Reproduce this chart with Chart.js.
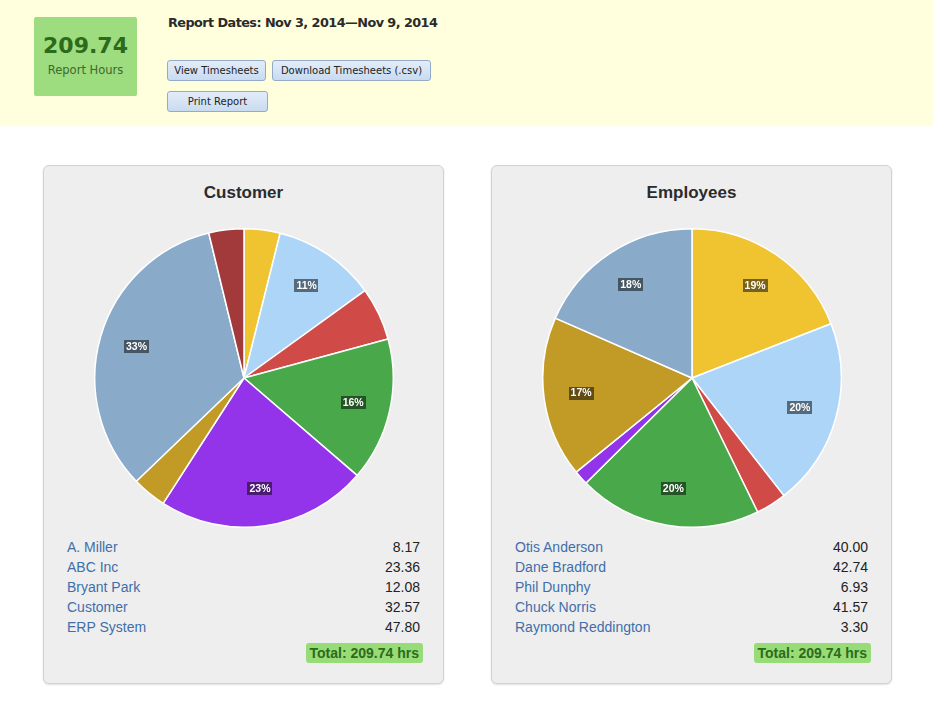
<!DOCTYPE html>
<html>
<head>
<meta charset="utf-8">
<script src="https://cdn.jsdelivr.net/npm/chart.js@4.4.0/dist/chart.umd.min.js"></script>
<style>
	html, body { margin: 0; padding: 0; background: #fff; }
	body { width: 933px; height: 707px; position: relative; overflow: hidden; font-family: "Liberation Sans", Arial, sans-serif; }
	.banner { position: absolute; left: 0; top: 0; width: 933px; height: 126px; background: #ffffdd; }
	.hours-box { position: absolute; left: 34px; top: 17px; width: 103px; height: 79px; background: #9ddc7f; border-radius: 2px; text-align: center; }
	.hours-box .num { font-family: "DejaVu Sans", sans-serif; font-weight: bold; font-size: 22px; color: #2c6a1c; margin-top: 16px; line-height: 26px; }
	.hours-box .lbl { font-family: "DejaVu Sans", sans-serif; font-size: 11.5px; color: #3b6a2e; margin-top: 4px; }
	.dates { position: absolute; left: 168px; top: 15px; font-family: "DejaVu Sans", sans-serif; font-weight: bold; font-size: 12.8px; letter-spacing: -0.55px; color: #2a2a2a; white-space: nowrap; }
	.btn { position: absolute; height: 19px; line-height: 19px; border: 1px solid #93abc9; border-radius: 3px; background: linear-gradient(#e3edf9, #c9dbf1); font-family: "DejaVu Sans", sans-serif; font-size: 10px; color: #222; text-align: center; box-sizing: content-box; }
	.panel { position: absolute; top: 165px; width: 399px; height: 517px; background: #eeeeee; border: 1px solid #d2d2d2; border-radius: 6px; box-shadow: 0 1px 2px rgba(0,0,0,0.12); }
	.panel h2 { margin: 0; position: absolute; left: 0; width: 100%; top: 17px; text-align: center; font-size: 17px; font-weight: bold; color: #2b2b2b; }
	.pie { position: absolute; left: 50px; top: 62px; width: 300px; height: 300px; }
	.rows { position: absolute; left: 23px; right: 23px; top: 371px; }
	.row { height: 20px; line-height: 20px; font-size: 14px; display: flex; justify-content: space-between; }
	.row .name { color: #3f6eaa; }
	.row .val { color: #222; }
	.total { position: absolute; right: 20px; top: 477px; height: 20px; line-height: 20px; padding: 0 4px; background: #98dc77; border-radius: 3px; font-size: 14px; font-weight: bold; color: #2c6a1c; }
</style>
</head>
<body>
<div class="banner">
	<div class="hours-box"><div class="num">209.74</div><div class="lbl">Report Hours</div></div>
	<div class="dates">Report Dates: Nov 3, 2014—Nov 9, 2014</div>
	<div class="btn" style="left:167px;top:60px;width:97px;">View Timesheets</div>
	<div class="btn" style="left:272px;top:60px;width:157px;">Download Timesheets (.csv)</div>
	<div class="btn" style="left:167px;top:91px;width:99px;">Print Report</div>
</div>

<div class="panel" style="left:43px;">
	<h2>Customer</h2>
	<div class="pie"><canvas id="customerChart"></canvas></div>
	<div class="rows" id="customerRows"></div>
	<div class="total">Total: 209.74 hrs</div>
</div>

<div class="panel" style="left:491px;">
	<h2>Employees</h2>
	<div class="pie"><canvas id="employeeChart"></canvas></div>
	<div class="rows" id="employeeRows"></div>
	<div class="total">Total: 209.74 hrs</div>
</div>

<script>
// Customer hours (only the first five are listed under the pie)
const customerLabels = ['A. Miller', 'ABC Inc', 'Bryant Park', 'Customer', 'ERP System', 'Other 1', 'Other 2', 'Other 3'];
const customerHours = [8.17, 23.36, 12.08, 32.57, 47.80, 7.80, 70.00, 7.96];

// Employee hours
const employeeLabels = ['Otis Anderson', 'Dane Bradford', 'Phil Dunphy', 'Chuck Norris', 'Raymond Reddington', 'Other 1', 'Other 2'];
const employeeHours = [40.00, 42.74, 6.93, 41.57, 3.30, 36.55, 38.65];

const palette = ['#f0c330', '#acd5f7', '#d04b47', '#49a94a', '#9434ea', '#c29b27', '#89aac8', '#a2393b'];

// Draws the "NN%" tags on the bigger slices
const pctLabels = {
	id: 'pctLabels',
	afterDatasetsDraw(chart) {
		const ctx = chart.ctx;
		const data = chart.data.datasets[0].data;
		const total = data.reduce((a, b) => a + b, 0);
		const meta = chart.getDatasetMeta(0);
		ctx.save();
		ctx.font = 'bold 10.5px "Liberation Sans", Arial, sans-serif';
		ctx.textAlign = 'center';
		ctx.textBaseline = 'middle';
		meta.data.forEach((arc, i) => {
			const pct = data[i] / total * 100;
			if (pct < 10) return;
			const p = arc.getProps(['x', 'y', 'startAngle', 'endAngle', 'outerRadius'], true);
			const mid = (p.startAngle + p.endAngle) / 2;
			const r = p.outerRadius * 0.75;
			const x = p.x + Math.cos(mid) * r;
			const y = p.y + Math.sin(mid) * r;
			const text = Math.round(pct) + '%';
			const w = ctx.measureText(text).width + 4;
			ctx.fillStyle = 'rgba(0, 0, 0, 0.5)';
			ctx.fillRect(Math.round(x - w / 2), Math.round(y - 6.5), Math.round(w), 13);
			ctx.fillStyle = '#fff';
			ctx.fillText(text, x, y + 0.5);
		});
		ctx.restore();
	}
};

function makePie(id, labels, values) {
	return new Chart(document.getElementById(id), {
		type: 'pie',
		data: {
			labels: labels,
			datasets: [{
				data: values,
				backgroundColor: palette.slice(0, values.length),
				borderColor: '#ffffff',
				borderWidth: 1.5,
				hoverOffset: 0
			}]
		},
		options: {
			responsive: true,
			maintainAspectRatio: false,
			animation: false,
			layout: { padding: 0 },
			plugins: {
				legend: { display: false },
				tooltip: { enabled: false }
			}
		},
		plugins: [pctLabels]
	});
}

function fillRows(id, labels, values) {
	const el = document.getElementById(id);
	el.innerHTML = labels.slice(0, 5).map((name, i) => `
		<div class="row"><span class="name">${name}</span><span class="val">${values[i].toFixed(2)}</span></div>
	`).join('');
}

makePie('customerChart', customerLabels, customerHours);
makePie('employeeChart', employeeLabels, employeeHours);
fillRows('customerRows', customerLabels, customerHours);
fillRows('employeeRows', employeeLabels, employeeHours);
</script>
</body>
</html>
